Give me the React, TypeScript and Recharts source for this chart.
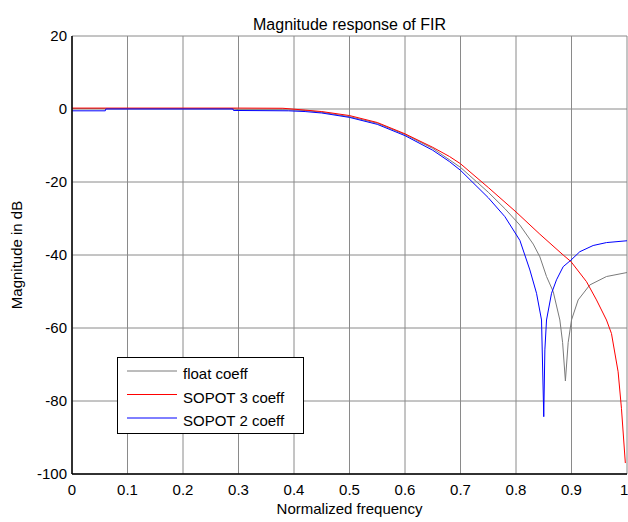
import React from 'react';
import { LineChart, Line, XAxis, YAxis, CartesianGrid } from 'recharts';

const FONT = '"Liberation Sans", Arial, sans-serif';

const freqTicks = [0, 0.1, 0.2, 0.3, 0.4, 0.5, 0.6, 0.7, 0.8, 0.9, 1];
const dbTicks = [-100, -80, -60, -40, -20, 0, 20];

// float coefficients
const floatFreq = [0, 0.06, 0.29, 0.3, 0.38, 0.42, 0.45, 0.5, 0.55, 0.6, 0.65, 0.7, 0.75, 0.78, 0.807, 0.831, 0.843, 0.855, 0.867, 0.879, 0.884, 0.889, 0.894, 0.9, 0.912, 0.933, 0.963, 1.0];
const floatDb = [0.1, 0.1, 0.1, -0.2, -0.2, -0.4, -0.9, -2.1, -3.9, -7.0, -10.8, -16.0, -22.8, -27.3, -31.8, -37.0, -40.5, -45.9, -50, -57.8, -64, -74.5, -64, -57.8, -52.3, -48.2, -45.9, -44.8];

// SOPOT 3 coefficients
const sopot3Freq = [0, 0.3, 0.38, 0.42, 0.45, 0.5, 0.55, 0.6, 0.65, 0.68, 0.7, 0.75, 0.8, 0.843, 0.885, 0.899, 0.927, 0.945, 0.963, 0.972, 0.984, 0.99, 0.997];
const sopot3Db = [0.25, 0.25, 0.2, -0.3, -0.7, -1.8, -3.7, -6.8, -10.5, -13.0, -15.0, -21.5, -28.2, -34.3, -40, -41.8, -47.3, -52.3, -57.8, -61.5, -72, -82, -97];

// SOPOT 2 coefficients
const sopot2Freq = [0, 0.06, 0.061, 0.29, 0.291, 0.39, 0.42, 0.45, 0.5, 0.55, 0.6, 0.65, 0.68, 0.7, 0.75, 0.78, 0.807, 0.825, 0.837, 0.846, 0.85, 0.852, 0.855, 0.864, 0.873, 0.885, 0.899, 0.915, 0.939, 0.963, 1.0];
const sopot2Db = [-0.5, -0.5, 0, 0, -0.4, -0.5, -0.7, -1.1, -2.3, -4.2, -7.3, -11.3, -14.4, -16.8, -24.3, -29.5, -36.0, -44.1, -50.5, -57.8, -84.3, -66, -57.8, -50.5, -46.8, -43.2, -41.4, -39.1, -37.4, -36.6, -36.1];

const toPoints = (f: number[], db: number[]) => f.map((x, i) => ({ f: x, db: db[i] }));

const series = [
  { name: 'float coeff', color: '#7a7a7a', data: toPoints(floatFreq, floatDb) },
  { name: 'SOPOT 3 coeff', color: '#ff0000', data: toPoints(sopot3Freq, sopot3Db) },
  { name: 'SOPOT 2 coeff', color: '#0000ff', data: toPoints(sopot2Freq, sopot2Db) },
];

const tickStyle = { fill: '#000', fontSize: 15, fontFamily: FONT };

export default function App() {
  return (
    <div style={{ position: 'absolute', left: 0, top: 0, width: 628, height: 522, background: '#fff' }}>
      <LineChart width={628} height={522} margin={{ top: 36, right: 1, bottom: 0, left: 0 }}>
        <CartesianGrid stroke="#8a8a8a" strokeWidth={1} />
        <XAxis
          dataKey="f"
          type="number"
          domain={[0, 1]}
          ticks={freqTicks}
          tickFormatter={(v: number) => String(v)}
          height={48}
          tickLine={false}
          tickSize={10}
          tickMargin={0}
          axisLine={{ stroke: '#000', strokeWidth: 1.5 }}
          tick={tickStyle}
          allowDataOverflow
        />
        <XAxis xAxisId="top" orientation="top" type="number" domain={[0, 1]} height={0} tick={false} tickLine={false} axisLine={{ stroke: '#000', strokeWidth: 1.5 }} />
        <YAxis
          type="number"
          domain={[-100, 20]}
          ticks={dbTicks}
          width={72}
          tickLine={false}
          tickSize={5}
          tickMargin={0}
          axisLine={{ stroke: '#000', strokeWidth: 1.5 }}
          tick={tickStyle}
          allowDataOverflow
        />
        <YAxis yAxisId="right" orientation="right" type="number" domain={[-100, 20]} width={0} tick={false} tickLine={false} axisLine={{ stroke: '#000', strokeWidth: 1.5 }} />
        {series.map((s) => (
          <Line
            key={s.name}
            data={s.data}
            dataKey="db"
            name={s.name}
            type="linear"
            stroke={s.color}
            strokeWidth={1}
            dot={false}
            isAnimationActive={false}
          />
        ))}
      </LineChart>
      <svg width={628} height={522} style={{ position: 'absolute', left: 0, top: 0, pointerEvents: 'none' }}>
        <text x={349.5} y={30} textAnchor="middle" fontSize={16} fontFamily={FONT} fill="#000">
          Magnitude response of FIR
        </text>
        <text x={349.5} y={514} textAnchor="middle" fontSize={15} fontFamily={FONT} fill="#000">
          Normalized frequency
        </text>
        <text x={22} y={255} textAnchor="middle" fontSize={15} fontFamily={FONT} fill="#000" transform="rotate(-90 22 255)">
          Magnitude in dB
        </text>
        <rect x={117.5} y={357.5} width={186} height={76} fill="#fff" stroke="#000" strokeWidth={1} />
        {series.map((s, i) => (
          <g key={s.name}>
            <line x1={127} x2={177} y1={371 + i * 23.5} y2={371 + i * 23.5} stroke={s.color} strokeWidth={1} />
            <text x={183} y={379 + i * 23.5} fontSize={15} fontFamily={FONT} fill="#000">
              {s.name}
            </text>
          </g>
        ))}
      </svg>
    </div>
  );
}
